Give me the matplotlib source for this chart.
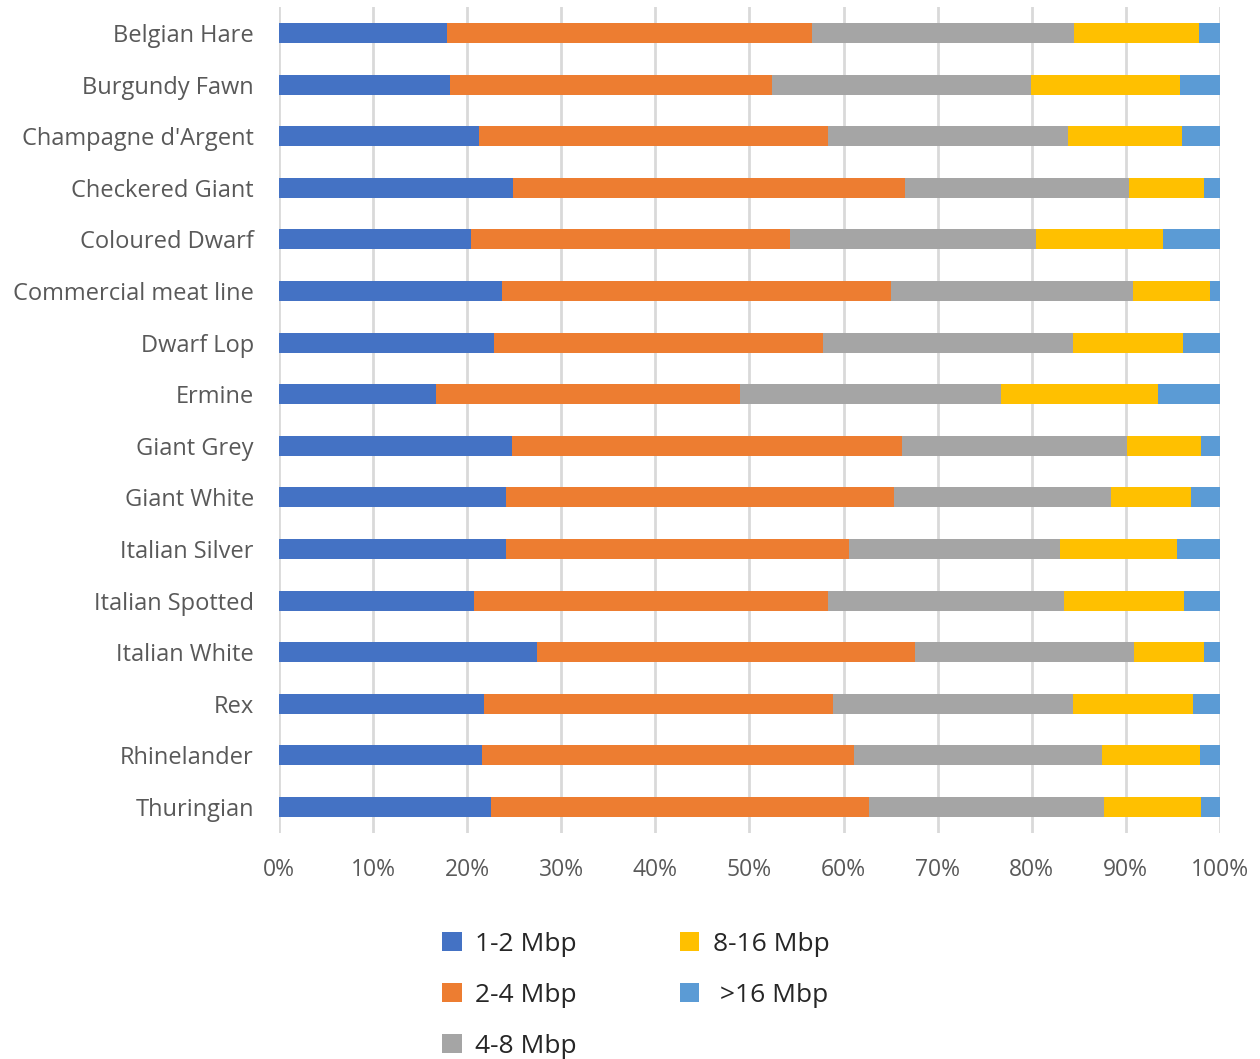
import numpy as np
import matplotlib.pyplot as plt
from matplotlib.ticker import PercentFormatter

plt.rcParams['font.family'] = ['Open Sans', 'DejaVu Sans']

breeds = ["Belgian Hare", "Burgundy Fawn", "Champagne d'Argent", "Checkered Giant",
          "Coloured Dwarf", "Commercial meat line", "Dwarf Lop", "Ermine",
          "Giant Grey", "Giant White", "Italian Silver", "Italian Spotted",
          "Italian White", "Rex", "Rhinelander", "Thuringian"]

# share of ROH per length class (%)
mbp_1_2 = [17.9, 18.2, 21.3, 24.9, 20.4, 23.7, 22.8, 16.7, 24.8, 24.1, 24.1, 20.7, 27.4, 21.8, 21.6, 22.5]
mbp_2_4 = [38.8, 34.2, 37.1, 41.6, 33.9, 41.3, 35.0, 32.3, 41.4, 41.3, 36.5, 37.7, 40.2, 37.1, 39.5, 40.2]
mbp_4_8 = [27.8, 27.5, 25.5, 23.8, 26.1, 25.8, 26.6, 27.7, 23.9, 23.0, 22.4, 25.0, 23.3, 25.5, 26.4, 25.0]
mbp_8_16 = [13.3, 15.9, 12.1, 8.0, 13.6, 8.1, 11.7, 16.7, 7.9, 8.5, 12.4, 12.8, 7.4, 12.7, 10.4, 10.3]
mbp_16 = [2.2, 4.2, 4.0, 1.7, 6.0, 1.1, 3.9, 6.6, 2.0, 3.1, 4.6, 3.8, 1.7, 2.9, 2.1, 2.0]

series = [mbp_1_2, mbp_2_4, mbp_4_8, mbp_8_16, mbp_16]
labels = ["1-2 Mbp", "2-4 Mbp", "4-8 Mbp", "8-16 Mbp", " >16 Mbp"]
colors = ["#4472C4", "#ED7D31", "#A5A5A5", "#FFC000", "#5B9BD5"]

fig = plt.figure(figsize=(12.6, 10.59), dpi=100)
ax = fig.add_axes([0.2214, 0.2136, 0.7468, 0.7796])

data = np.array(series, dtype=float)
data = data / data.sum(axis=0) * 100  # normalise to 100%
y = np.arange(len(breeds))
left = np.zeros(len(breeds))
for vals, lab, col in zip(data, labels, colors):
    ax.barh(y, vals, left=left, height=0.39, color=col, label=lab, zorder=3)
    left += vals

ax.set_ylim(len(breeds) - 0.5, -0.5)
ax.set_xlim(0, 100)
ax.set_yticks(y)
ax.set_yticklabels(breeds)
ax.set_xticks(np.arange(0, 101, 10))
ax.xaxis.set_major_formatter(PercentFormatter(decimals=0))
ax.tick_params(axis='y', length=0, labelsize=17, labelcolor="#595959", pad=18)
ax.tick_params(axis='x', length=0, labelsize=16.5, labelcolor="#595959", pad=18)
ax.grid(axis='x', color="#D9D9D9", linewidth=2, zorder=0)
for s in ax.spines.values():
    s.set_visible(False)

fig.legend(loc='upper left', bbox_to_anchor=(0.332, 0.1425), ncol=2, frameon=False,
           fontsize=19, handlelength=0.75, handleheight=0.75, handletextpad=0.5,
           columnspacing=3.9, labelspacing=0.98, labelcolor="#262626")

fig.savefig("out.png", dpi=100, facecolor="white")
